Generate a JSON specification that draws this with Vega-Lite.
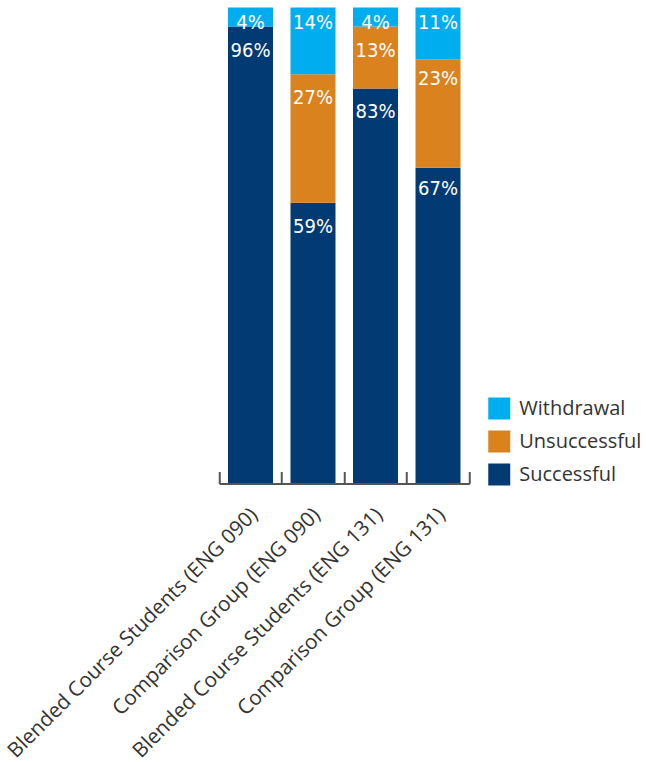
{
  "$schema": "https://vega.github.io/schema/vega-lite/v6.json",
  "width": 250,
  "height": 476,
  "autosize": "none",
  "padding": {"left": 219.25, "top": 7.5, "right": 176.75, "bottom": 278.5},
  "background": "white",
  "config": {"view": {"stroke": null}, "font": "Open Sans"},
  "data": {
    "values": [
      {"group": "Blended Course Students (ENG 090)", "status": "Successful", "value": 0.96},
      {"group": "Blended Course Students (ENG 090)", "status": "Withdrawal", "value": 0.04},
      {"group": "Comparison Group (ENG 090)", "status": "Successful", "value": 0.59},
      {"group": "Comparison Group (ENG 090)", "status": "Unsuccessful", "value": 0.27},
      {"group": "Comparison Group (ENG 090)", "status": "Withdrawal", "value": 0.14},
      {"group": "Blended Course Students (ENG 131)", "status": "Successful", "value": 0.83},
      {"group": "Blended Course Students (ENG 131)", "status": "Unsuccessful", "value": 0.13},
      {"group": "Blended Course Students (ENG 131)", "status": "Withdrawal", "value": 0.04},
      {"group": "Comparison Group (ENG 131)", "status": "Successful", "value": 0.67},
      {"group": "Comparison Group (ENG 131)", "status": "Unsuccessful", "value": 0.23},
      {"group": "Comparison Group (ENG 131)", "status": "Withdrawal", "value": 0.11}
    ]
  },
  "encoding": {
    "x": {
      "field": "group",
      "type": "nominal",
      "sort": null,
      "scale": {"paddingInner": 0, "paddingOuter": 0},
      "axis": {
        "title": null,
        "labelAngle": -45,
        "labelAlign": "right",
        "labelBaseline": "middle",
        "labelFontSize": 20.6,
        "labelFont": "Open Sans",
        "labelColor": "#333333",
        "labelLimit": 0,
        "labelPadding": 40,
        "labelOffset": 4,
        "ticks": true,
        "bandPosition": 1,
        "tickExtra": true,
        "tickSize": -12,
        "tickWidth": 2,
        "tickColor": "#555555",
        "domainColor": "#555555",
        "domainWidth": 2,
        "grid": false,
        "zindex": 1
      }
    }
  },
  "layer": [
    {
      "mark": {"type": "bar", "width": {"band": 0.72}},
      "encoding": {
        "y": {"field": "value", "type": "quantitative", "stack": "normalize", "scale": {"domain": [0, 1]}, "axis": null},
        "color": {
          "field": "status",
          "type": "nominal",
          "scale": {"domain": ["Withdrawal", "Unsuccessful", "Successful"], "range": ["#00aeef", "#d9821e", "#023b74"]},
          "legend": {
            "title": null,
            "orient": "none",
            "legendX": 269,
            "legendY": 390,
            "padding": 0,
            "symbolType": "square",
            "symbolSize": 484,
            "symbolStrokeWidth": 0,
            "symbolOpacity": 1,
            "labelFontSize": 20,
            "labelFont": "Open Sans",
            "labelColor": "#333333",
            "labelOffset": 9,
            "rowPadding": 11
          }
        },
        "order": {"field": "status", "sort": "ascending"}
      }
    },
    {
      "transform": [{"filter": "datum.status !== 'Withdrawal'"}],
      "mark": {"type": "text", "baseline": "alphabetic", "dy": 30, "fontSize": 20, "font": "DejaVu Sans Condensed, Roboto", "color": "white"},
      "encoding": {
        "y": {"field": "value", "type": "quantitative", "stack": "zero"},
        "order": {"field": "status", "sort": "ascending"},
        "text": {"field": "value", "type": "quantitative", "format": ".0%"}
      }
    },
    {
      "transform": [{"filter": "datum.status === 'Withdrawal'"}],
      "mark": {"type": "text", "baseline": "alphabetic", "dy": 21, "fontSize": 20, "font": "DejaVu Sans Condensed, Roboto", "color": "white"},
      "encoding": {
        "y": {"datum": 1, "type": "quantitative"},
        "text": {"field": "value", "type": "quantitative", "format": ".0%"}
      }
    }
  ]
}
